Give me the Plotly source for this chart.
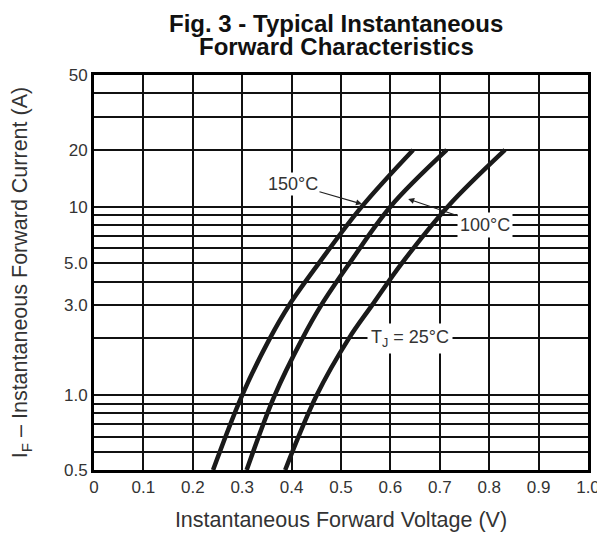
import plotly.graph_objects as go

# ---- data ----
current_a = [0.4, 1, 2, 3, 5, 10, 20]
v_150c = [0.241, 0.300, 0.356, 0.395, 0.455, 0.542, 0.646]
v_100c = [0.309, 0.366, 0.422, 0.460, 0.517, 0.600, 0.714]
v_25c = [0.387, 0.451, 0.516, 0.563, 0.623, 0.716, 0.832]

x_tick_values = [0, 0.1, 0.2, 0.3, 0.4, 0.5, 0.6, 0.7, 0.8, 0.9, 1.0]
x_tick_text = ["0", "0.1", "0.2", "0.3", "0.4", "0.5", "0.6", "0.7", "0.8", "0.9", "1.0"]

y_grid_values = [50, 40, 30, 20, 10, 9, 8, 7, 6, 5, 4, 3, 2, 1, 0.9, 0.8, 0.7, 0.6, 0.5, 0.4]
y_label_map = {50: "50", 20: "20", 10: "10", 5: "5.0", 3: "3.0", 1: "1.0", 0.4: "0.5"}
y_tick_text = [y_label_map.get(v, "") for v in y_grid_values]

title_lines = ["Fig. 3 - Typical Instantaneous", "Forward Characteristics"]

FONT = "Liberation Sans, Arial, sans-serif"
LINE = dict(color="#1a1a1a", width=4.5)

fig = go.Figure()
for v in (v_150c, v_100c, v_25c):
    fig.add_trace(go.Scatter(x=v, y=current_a, mode="lines",
                             line=dict(shape="spline", smoothing=1.0, **LINE),
                             showlegend=False, hoverinfo="skip"))

# the page places the figure 8px from the top-left corner; size accordingly
fig.update_layout(
    width=597, height=529,
    margin=dict(l=86, r=17, t=67, b=67),
    paper_bgcolor="white", plot_bgcolor="white",
    font=dict(family=FONT, color="#333333", size=17),
)

fig.update_xaxes(
    range=[0, 1.0], tickvals=x_tick_values, ticktext=x_tick_text,
    showgrid=True, gridcolor="#111111", gridwidth=1.5,
    showline=True, linecolor="#000000", linewidth=3, mirror=True,
    ticks="", zeroline=False, automargin=False,
    tickfont=dict(size=17, color="#333333"),
    title=dict(text="Instantaneous Forward Voltage (V)", font=dict(size=21.5, color="#333333"),
               standoff=16),
)
fig.update_yaxes(
    type="log", range=[-0.39794, 1.69897],
    tickvals=y_grid_values, ticktext=y_tick_text,
    showgrid=True, gridcolor="#111111", gridwidth=1.5,
    showline=True, linecolor="#000000", linewidth=3, mirror=True,
    ticks="", zeroline=False, automargin=False,
    tickfont=dict(size=17, color="#333333"),
    title=dict(text="I<sub>F</sub> – Instantaneous Forward Current (A)",
               font=dict(size=21.5, color="#333333"), standoff=31),
)

# title as two annotation lines (paper coords above the plot area)
for text, ypos in zip(title_lines, (1.1316, 1.0709)):
    fig.add_annotation(x=0.49, y=ypos, xref="paper", yref="paper",
                       text="<b>" + text + "</b>", showarrow=False,
                       xanchor="center", yanchor="middle", borderpad=0,
                       font=dict(family=FONT, size=24, color="#111111"))

ann_font = dict(family=FONT, size=18, color="#333333")
fig.add_annotation(x=0.5425, y=1.014, xref="x", yref="y", text="150°C",
                   showarrow=True, ax=-69, ay=-20, arrowhead=2, arrowsize=1,
                   arrowwidth=1.2, arrowcolor="#222222", font=ann_font,
                   bgcolor="white")
fig.add_annotation(x=0.636, y=1.0405, xref="x", yref="y", text="100°C",
                   showarrow=True, ax=77, ay=26, arrowhead=2, arrowsize=1,
                   arrowwidth=1.2, arrowcolor="#222222", font=ann_font,
                   bgcolor="white", borderpad=2)
fig.add_annotation(x=0.64, y=0.30103, xref="x", yref="y",
                   text="T<sub>J</sub> = 25°C", showarrow=False,
                   font=ann_font, bgcolor="white", borderpad=3)

fig.write_html("out.html")
